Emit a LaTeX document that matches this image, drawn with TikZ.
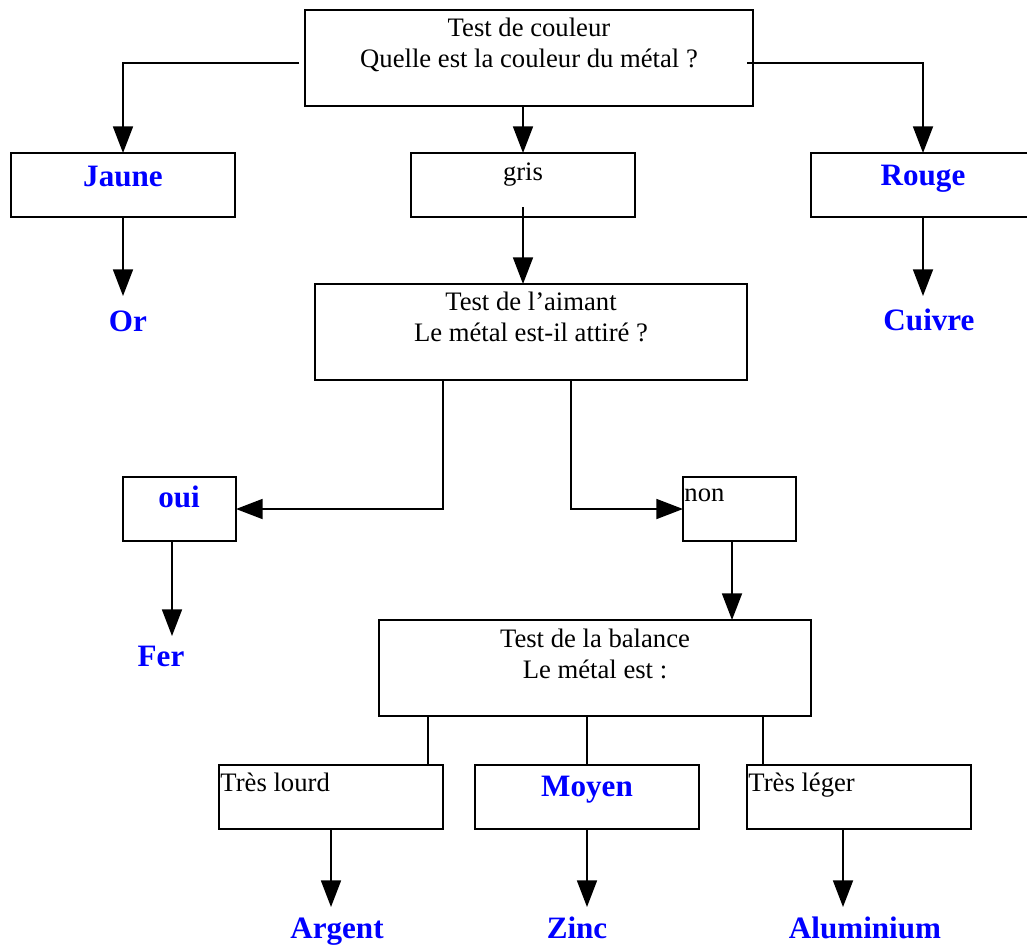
\documentclass[tikz,border=0pt]{standalone}
\usepackage{fontspec}
\setmainfont{Liberation Serif}
\usetikzlibrary{arrows.meta}
\definecolor{lblue}{RGB}{0,0,255}
\begin{document}
\begin{tikzpicture}[x=0.45pt,y=-0.45pt,
  box/.style={draw=black,line width=1pt,inner sep=0pt,outer sep=0pt,fill=none},
  wbox/.style={box,minimum width=100.8pt,minimum height=28.8pt},
  nbox/.style={box,minimum width=50.85pt,minimum height=28.8pt},
  qbox/.style={box,minimum height=43.2pt},
  txt/.style={inner sep=0pt,font=\fontsize{12}{14}\selectfont,align=center},
  btxt/.style={inner sep=0pt,font=\fontsize{14}{16}\selectfont\bfseries,text=lblue},
  arr/.style={line width=0.8pt,-{Triangle[width=9pt,length=12pt]}},
  ln/.style={line width=0.8pt}]
\useasboundingbox (0,0) rectangle (1027,945);
% boxes
\node[qbox,minimum width=201.6pt] (top) at (529,58) {};
\node[wbox] (jaune) at (123,185) {};
\node[wbox] (gris) at (523,185) {};
\node[wbox] (rouge) at (923,185) {};
\node[qbox,minimum width=194.4pt] (aimant) at (531,332) {};
\node[nbox] (oui) at (179.5,509) {};
\node[nbox] (non) at (739.5,509) {};
\node[qbox,minimum width=194.4pt] (balance) at (595,668) {};
\node[wbox] (lourd) at (331,797) {};
\node[wbox] (moyen) at (587,797) {};
\node[wbox] (leger) at (859,797) {};
% texts
\node[txt] (ttop) at (529,45) {Test de couleur\\Quelle est la couleur du métal ?};
\node[btxt] (tjaune) at (123,176) {Jaune};
\node[txt] (tgris) at (523,175) {gris};
\node[btxt] (trouge) at (923,179) {Rouge};
\node[btxt] (or) at (128,321) {Or};
\node[btxt] (cuivre) at (929,320) {Cuivre};
\node[txt] (taimant) at (531,317) {Test de l’aimant\\Le métal est-il attiré ?};
\node[btxt] (toui) at (179,497) {oui};
\node[txt,anchor=west] (tnon) at (684,495) {non};
\node[btxt] (fer) at (161,656) {Fer};
\node[txt] (tbalance) at (595,654) {Test de la balance\\Le métal est :};
\node[txt,anchor=west] (tlourd) at (220,782) {Très lourd};
\node[btxt] (tmoyen) at (587,790) {Moyen};
\node[txt,anchor=west] (tleger) at (748,785) {Très léger};
\node[btxt] (argent) at (337,932) {Argent};
\node[btxt] (zinc) at (577,928) {Zinc};
\node[btxt] (alu) at (865,928) {Aluminium};
% free ends
\coordinate (tl) at (299,63);
\coordinate (tr) at (747,63);
\coordinate (gs) at (523,207);
\coordinate (orend) at (123,296);
\coordinate (cuend) at (923,296);
\coordinate (aL) at (443,380);
\coordinate (aR) at (571,380);
\coordinate (os) at (172,541);
\coordinate (ferend) at (172,636);
\coordinate (ns) at (732,541);
\coordinate (b1) at (428,716);
\coordinate (b2) at (587,716);
\coordinate (b3) at (763,716);
\coordinate (l1) at (331,829);
\coordinate (l2) at (587,829);
\coordinate (l3) at (843,829);
\coordinate (e1) at (331,907);
\coordinate (e2) at (587,907);
\coordinate (e3) at (843,907);
% connectors
\draw[arr] (tl) -| (jaune.north);
\draw[arr] (tr) -| (rouge.north);
\draw[arr] (top.south -| gris.north) -- (gris.north);
\draw[arr] (gs) -- (gs |- aimant.north);
\draw[arr] (jaune.south) -- (orend);
\draw[arr] (rouge.south) -- (cuend);
\draw[arr] (aL) |- (oui.east);
\draw[arr] (aR) |- (non.west);
\draw[arr] (os) -- (ferend);
\draw[arr] (ns) -- (ns |- balance.north);
\draw[ln] (b1) -- (b1 |- lourd.north);
\draw[ln] (b2) -- (b2 |- moyen.north);
\draw[ln] (b3) -- (b3 |- leger.north);
\draw[arr] (l1) -- (e1);
\draw[arr] (l2) -- (e2);
\draw[arr] (l3) -- (e3);
\end{tikzpicture}
\end{document}
